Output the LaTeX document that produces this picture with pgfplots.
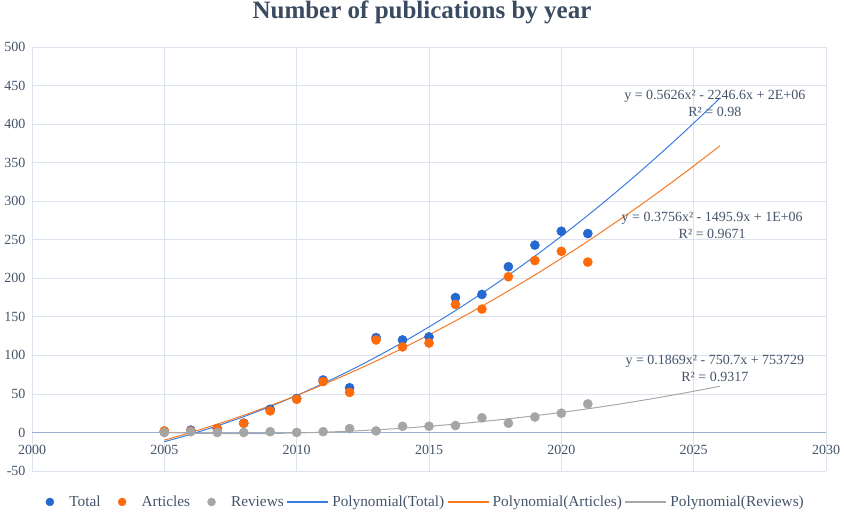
\documentclass[border=0pt]{standalone}
\usepackage{pgfplots}
\pgfplotsset{compat=1.18}
\usepackage{fontspec}
\setmainfont{Liberation Serif}
\definecolor{cTotal}{HTML}{2468D2}
\definecolor{cTotalL}{HTML}{3A7DE0}
\definecolor{cArt}{HTML}{FF6A0A}
\definecolor{cArtL}{HTML}{F57A25}
\definecolor{cRev}{HTML}{A5A5A5}
\definecolor{cRevL}{HTML}{A8A8A8}
\definecolor{cGrid}{HTML}{DCE3EE}
\definecolor{cZero}{HTML}{9AAFCC}
\definecolor{cText}{HTML}{44546A}
\definecolor{cTitle}{HTML}{3A4A60}
\begin{document}
\begin{tikzpicture}
\path[use as bounding box] (0pt,0pt) rectangle (844pt,512pt);
\node[font=\fontsize{25}{29}\selectfont\bfseries, text=cTitle, anchor=base] at (422pt,493pt) {Number of publications by year};
\begin{axis}[
  at={(32pt,41pt)}, anchor=south west,
  scale only axis, width=794pt, height=424pt,
  xmin=2000, xmax=2030, ymin=-50, ymax=500,
  xtick={2000,2005,...,2030}, ytick={-50,0,...,500},
  grid=major, major grid style={cGrid, line width=0.8pt},
  axis line style={draw=none},
  major tick length=0pt,
  tick label style={font=\fontsize{14}{16}\selectfont, text=cText},
  /pgf/number format/assume math mode=true,
  /pgf/number format/.cd, 1000 sep={}, /pgfplots/.cd,
  yticklabel style={xshift=-3pt},
  xticklabel style={yshift=29pt},
  legend columns=6,
  legend style={at={(0.4863,-0.073)}, anchor=center, draw=none, fill=none,
    font=\fontsize{15.3}{17}\selectfont, inner xsep=0pt,
    /tikz/every even column/.style={column sep=0pt}},
  legend cell align=left,
]
\addplot[cZero, line width=1.1pt, forget plot] coordinates {(2000,0) (2030,0)};
\addplot[only marks, mark=*, mark size=4.6pt, color=cTotal, forget plot]
 coordinates {(2005,1) (2006,3) (2007,5) (2008,12) (2009,30) (2010,44) (2011,68) (2012,58) (2013,123) (2014,120) (2015,124) (2016,175) (2017,179) (2018,215) (2019,243) (2020,261) (2021,258)};
\addplot[only marks, mark=*, mark size=4.6pt, color=cArt, forget plot]
 coordinates {(2005,2) (2006,2) (2007,5) (2008,12) (2009,28) (2010,43) (2011,66) (2012,52) (2013,120) (2014,111) (2015,116) (2016,166) (2017,160) (2018,202) (2019,223) (2020,235) (2021,221)};
\addplot[only marks, mark=*, mark size=4.6pt, color=cRev, forget plot]
 coordinates {(2005,0) (2006,1) (2007,0) (2008,0) (2009,1) (2010,0) (2011,1) (2012,5) (2013,2) (2014,8) (2015,8) (2016,9) (2017,19) (2018,12) (2019,20) (2020,25) (2021,37)};
\addplot[cTotalL, line width=1pt, smooth, no marks, forget plot]
 coordinates {(2005,-12) (2006,-2.3) (2007,8.5) (2008,20.5) (2009,33.7) (2010,48.0) (2011,63.5) (2012,80.1) (2013,97.8) (2014,116.8) (2015,136.9) (2016,158.1) (2017,180.5) (2018,204.0) (2019,228.7) (2020,254.6) (2021,281.6) (2022,309.8) (2023,339.1) (2024,369.6) (2025,401.2) (2026,434.0)};
\addplot[cArtL, line width=1pt, smooth, no marks, forget plot]
 coordinates {(2005,-10) (2006,0) (2007,10.7) (2008,22.3) (2009,34.8) (2010,48.0) (2011,62.1) (2012,77.0) (2013,92.7) (2014,109.2) (2015,126.6) (2016,144.8) (2017,163.8) (2018,183.7) (2019,204.3) (2020,225.8) (2021,248.1) (2022,271.3) (2023,295.2) (2024,320.0) (2025,345.6) (2026,372.0)};
\addplot[cRevL, line width=1pt, smooth, no marks, forget plot]
 coordinates {(2005,0) (2006,-0.9) (2007,-1.4) (2008,-1.5) (2009,-1.3) (2010,-0.7) (2011,0.3) (2012,1.7) (2013,3.4) (2014,5.5) (2015,8.0) (2016,10.9) (2017,14.1) (2018,17.7) (2019,21.7) (2020,26.0) (2021,30.7) (2022,35.8) (2023,41.3) (2024,47.2) (2025,53.4) (2026,60.0)};
\addlegendimage{legend image code/.code={\path[draw=none,fill=none] (-19.5pt,0pt) -- (17.5pt,0pt); \fill[cTotal] (0pt,0pt) circle (4pt);}}
\addlegendentry[text=cText]{Total}
\addlegendimage{legend image code/.code={\path[draw=none,fill=none] (-19.5pt,0pt) -- (17.5pt,0pt); \fill[cArt] (0pt,0pt) circle (4pt);}}
\addlegendentry[text=cText]{Articles}
\addlegendimage{legend image code/.code={\path[draw=none,fill=none] (-19.5pt,0pt) -- (17.5pt,0pt); \fill[cRev] (0pt,0pt) circle (4pt);}}
\addlegendentry[text=cText]{Reviews}
\addlegendimage{legend image code/.code={\path[draw=none,fill=none] (-1.5pt,0pt) -- (43pt,0pt); \fill[cTotalL] (0pt,-0.65pt) rectangle (40pt,0.65pt);}}
\addlegendentry[text=cText]{Polynomial(Total)}
\addlegendimage{legend image code/.code={\path[draw=none,fill=none] (-1.5pt,0pt) -- (43pt,0pt); \fill[cArtL] (0pt,-0.65pt) rectangle (40pt,0.65pt);}}
\addlegendentry[text=cText]{Polynomial(Articles)}
\addlegendimage{legend image code/.code={\path[draw=none,fill=none] (-1.5pt,0pt) -- (43pt,0pt); \fill[cRevL] (0pt,-0.65pt) rectangle (40pt,0.65pt);}}
\addlegendentry[text=cText]{Polynomial(Reviews)}
\node[align=center, font=\fontsize{14}{17}\selectfont, text=cText] at (axis cs:2025.8,427) {y = 0.5626x² - 2246.6x + 2E+06\\R² = 0.98};
\node[align=center, font=\fontsize{14}{17}\selectfont, text=cText] at (axis cs:2025.7,268) {y = 0.3756x² - 1495.9x + 1E+06\\R² = 0.9671};
\node[align=center, font=\fontsize{14}{17}\selectfont, text=cText] at (axis cs:2025.8,83) {y = 0.1869x² - 750.7x + 753729\\R² = 0.9317};
\end{axis}
\end{tikzpicture}
\end{document}
